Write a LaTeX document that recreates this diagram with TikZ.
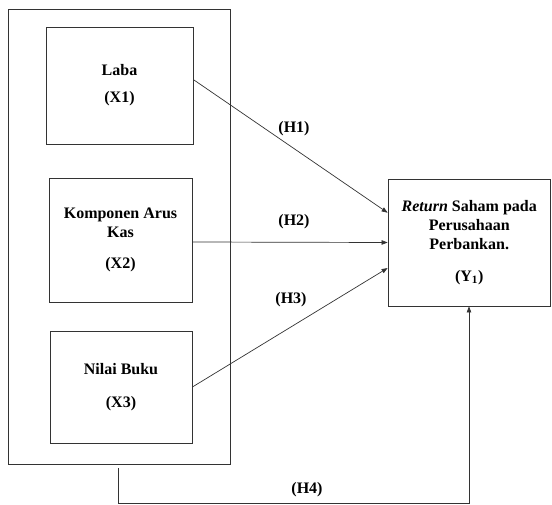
\documentclass[tikz,border=0pt]{standalone}
\usepackage{fontspec}
\setmainfont{Liberation Serif}
\usetikzlibrary{arrows.meta,calc}
\begin{document}
\begin{tikzpicture}[x=1pt,y=-1pt,
  box/.style={draw=black!80,line width=0.8pt,rectangle,inner sep=0pt,align=center,
    font=\fontsize{16}{19}\selectfont\bfseries},
  conn/.style={draw=black!80,line width=0.7pt},
  arr/.style={conn,-{Triangle[length=6pt,width=4.5pt]}},
  lbl/.style={font=\fontsize{16}{19}\selectfont\bfseries,inner sep=0pt}]
\useasboundingbox (0,0) rectangle (552,505);
\node[draw=black!80,line width=0.8pt,rectangle,inner sep=0pt,minimum width=222pt,minimum height=455pt] (outer) at (119,236.5) {};
\node[box,minimum width=147pt,minimum height=117pt] (laba) at (119.5,85.5) {Laba\\[8pt](X1)};
\node[box,minimum width=143pt,minimum height=124pt] (komp) at (120.5,240) {Komponen Arus\\Kas\\[12pt](X2)};
\node[box,minimum width=142pt,minimum height=112pt] (nilai) at (121,387) {Nilai Buku\\[14pt](X3)};
\node[box,minimum width=162.5pt,minimum height=127pt] (ret) at (469.25,242.5) {\textit{Return} Saham pada\\Perusahaan\\Perbankan.\\[13pt](Y\textsubscript{1})};
\coordinate (h4s) at (118,468);
\coordinate (h4a) at (118,503);
\coordinate (h4b) at (469,503);
\draw[arr] ($(laba.north east)!0.45!(laba.south east)$) -- ($(ret.north west)!0.267!(ret.south west)$);
\draw[arr] ($(komp.east)+(0,2)$) -- ($(ret.west)$);
\draw[arr] (nilai.east) -- ($(ret.north west)!0.70!(ret.south west)$);
\draw[arr] (h4s) -- (h4a) -- (h4b) -- (h4b |- ret.south);
\node[lbl] (l1) at (294,129) {(H1)};
\node[lbl] (l2) at (294,222) {(H2)};
\node[lbl] (l3) at (291,300) {(H3)};
\node[lbl] (l4) at (307,490) {(H4)};
\end{tikzpicture}
\end{document}
